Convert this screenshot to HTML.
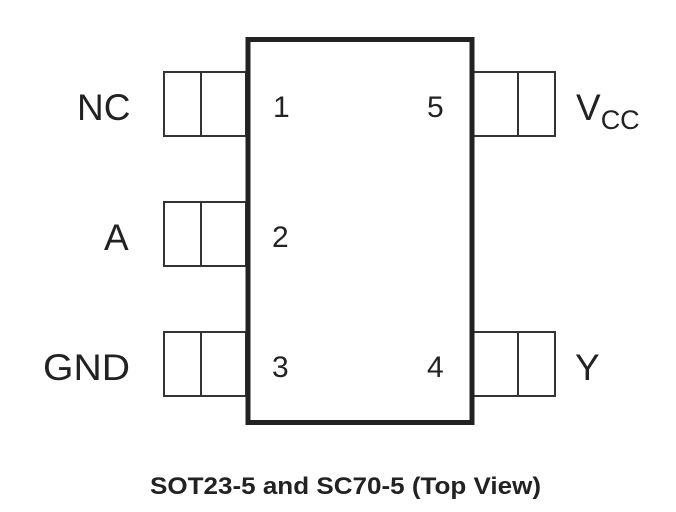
<!DOCTYPE html>
<html><head><style>
body{margin:0;width:676px;height:512px;background:#fff;overflow:hidden}
svg{display:block}
text{font-family:"Liberation Sans",Arial,sans-serif;fill:#222}
</style></head><body>
<svg width="676" height="512">
<g fill="#fff" stroke="#333" stroke-width="2">
<rect x="164" y="72" width="82" height="64"/><line x1="201" y1="72" x2="201" y2="136"/>
<rect x="164" y="202" width="82" height="64"/><line x1="201" y1="202" x2="201" y2="266"/>
<rect x="164" y="332" width="82" height="64"/><line x1="201" y1="332" x2="201" y2="396"/>
<rect x="472" y="72" width="83" height="64"/><line x1="518" y1="72" x2="518" y2="136"/>
<rect x="472" y="332" width="83" height="64"/><line x1="518" y1="332" x2="518" y2="396"/>
</g>
<rect x="248" y="39.5" width="224" height="383" fill="#fff" stroke="#222" stroke-width="5"/>
<g font-size="37">
<text x="77" y="120">NC</text>
<text x="104" y="250">A</text>
<text x="43" y="380" textLength="87" lengthAdjust="spacingAndGlyphs">GND</text>
<text x="576" y="120">V<tspan font-size="27" dy="9">CC</tspan></text>
<text x="575" y="380">Y</text>
</g>
<g font-size="30">
<text x="273" y="117">1</text>
<text x="272" y="247">2</text>
<text x="272" y="377">3</text>
<text x="427" y="377">4</text>
<text x="427" y="117">5</text>
</g>
<text x="150" y="494" font-size="24" font-weight="bold" textLength="391" lengthAdjust="spacingAndGlyphs" fill="#000">SOT23-5 and SC70-5 (Top View)</text>
</svg>
</body></html>
